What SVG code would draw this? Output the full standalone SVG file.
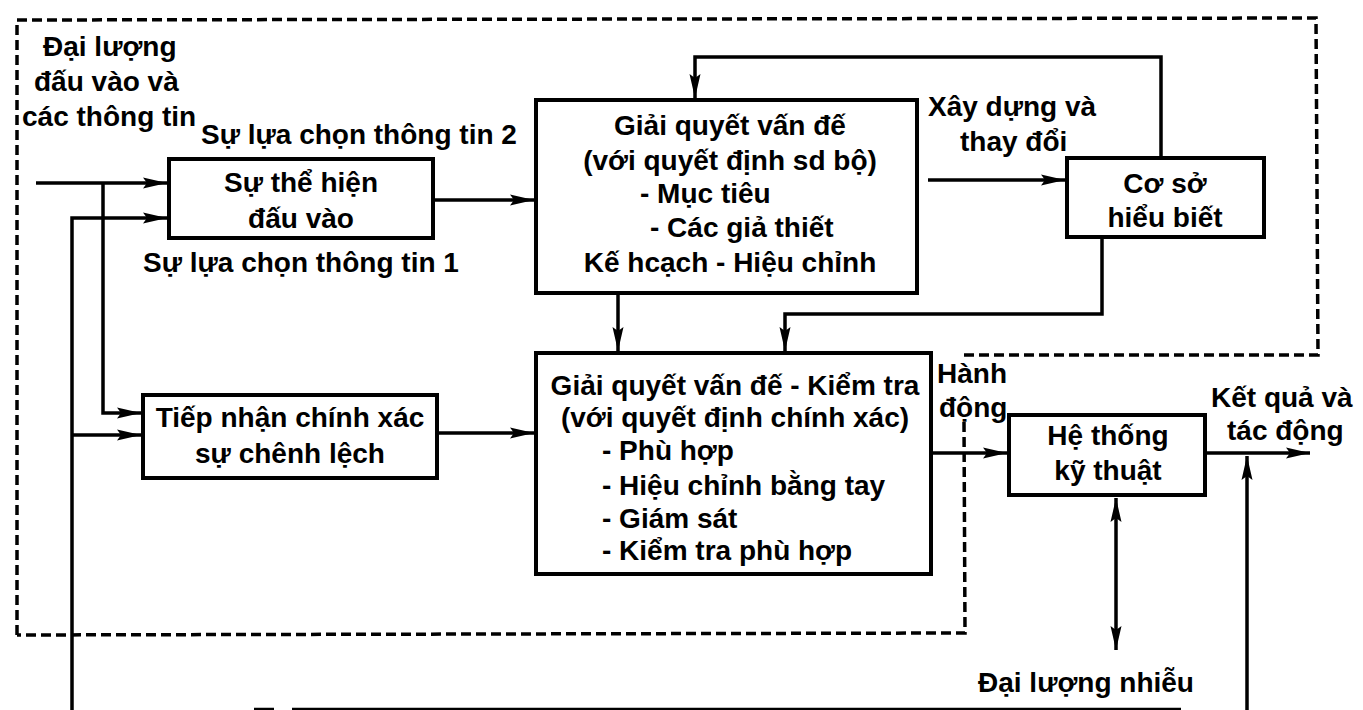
<svg xmlns="http://www.w3.org/2000/svg" width="1363" height="710" viewBox="0 0 1363 710">
<defs>
<style>
text{font-family:"Liberation Sans",Arial,sans-serif;font-weight:bold;font-size:28px;fill:#000}
.c{text-anchor:middle}
.box{fill:#fff;stroke:#000;stroke-width:4}
.ln{fill:none;stroke:#000;stroke-width:3.5}
.ar{fill:none;stroke:#000;stroke-width:3.5;marker-end:url(#ah)}
.dash{fill:none;stroke:#000;stroke-width:3.5;stroke-dasharray:10 5}
</style>
<marker id="ah" markerUnits="userSpaceOnUse" markerWidth="26" markerHeight="12" refX="25" refY="6" orient="auto-start-reverse">
<path d="M1,0.5 L25,6 L1,11.5 L5,6 z" fill="#000"/>
</marker>
</defs>
<rect width="1363" height="710" fill="#fff"/>

<g id="boundary">
<path class="dash" d="M17,635 L17,20 L1316,18 L1318,355 L963,355 M964,422 L965,633 L17,635"/>
</g>

<g id="connectors">
<path class="ar" d="M36,183 L167,183"/>
<path class="ar" d="M103,183 L103,413 L141,413"/>
<path class="ar" d="M72,710 L72,218 L167,218"/>
<path class="ar" d="M72,435 L141,435"/>
<path class="ar" d="M433,200 L534,200"/>
<path class="ar" d="M437,433 L534,433"/>
<path class="ar" d="M928,180 L1065,180"/>
<path class="ar" d="M1161,158 L1161,57 L695,57 L695,98"/>
<path class="ar" d="M1102,237 L1102,314 L785,314 L785,351"/>
<path class="ar" d="M618,294 L618,351"/>
<path class="ar" d="M931,453 L1007,453"/>
<path class="ar" d="M1205,453 L1310,453"/>
<path class="ar" d="M1247,710 L1247,456"/>
<path class="ln" d="M1116,498 L1116,650" marker-start="url(#ah)" marker-end="url(#ah)"/>
<path class="ln" style="stroke-width:2.5" d="M254,709 L274,709 M292,709 L1181,709"/>
</g>

<g id="labels">
<text x="43" y="56">Đại lượng</text>
<text x="34" y="91">đấu vào và</text>
<text x="22" y="126">các thông tin</text>
<text x="201" y="144">Sự lựa chọn thông tin 2</text>
<text x="143" y="272">Sự lựa chọn thông tin 1</text>
<text x="928" y="116">Xây dựng và</text>
<text x="960" y="151">thay đổi</text>
<text x="937" y="383">Hành</text>
<text x="939" y="417">động</text>
<text x="1211" y="407">Kết quả và</text>
<text x="1227" y="440">tác động</text>
<text x="978" y="692">Đại lượng nhiễu</text>
</g>

<g id="node-input">
<rect class="box" x="169" y="159" width="264" height="79"/>
<text class="c" x="301" y="192">Sự thể hiện</text>
<text class="c" x="301" y="228">đấu vào</text>
</g>

<g id="node-deviation">
<rect class="box" x="143" y="395" width="294" height="83"/>
<text class="c" x="290" y="427">Tiếp nhận chính xác</text>
<text class="c" x="290" y="463">sự chênh lệch</text>
</g>

<g id="node-solve1">
<rect class="box" x="536" y="100" width="381" height="193"/>
<text class="c" x="730" y="135">Giải quyết vấn đế</text>
<text class="c" x="730" y="170">(với quyết định sd bộ)</text>
<text x="640" y="203">- Mục tiêu</text>
<text x="650" y="237">- Các giả thiết</text>
<text class="c" x="730" y="272">Kế hcạch - Hiệu chỉnh</text>
</g>

<g id="node-knowledge">
<rect class="box" x="1067" y="158" width="197" height="79"/>
<text class="c" x="1165" y="193">Cơ sở</text>
<text class="c" x="1165" y="227">hiểu biết</text>
</g>

<g id="node-solve2">
<rect class="box" x="536" y="353" width="395" height="221"/>
<text class="c" x="735" y="395">Giải quyết vấn đế - Kiểm tra</text>
<text class="c" x="735" y="427">(với quyết định chính xác)</text>
<text x="602" y="460">- Phù hợp</text>
<text x="602" y="495">- Hiệu chỉnh bằng tay</text>
<text x="602" y="528">- Giám sát</text>
<text x="602" y="560">- Kiểm tra phù hợp</text>
</g>

<g id="node-system">
<rect class="box" x="1009" y="415" width="196" height="80"/>
<text class="c" x="1108" y="445">Hệ thống</text>
<text class="c" x="1108" y="480">kỹ thuật</text>
</g>
</svg>
